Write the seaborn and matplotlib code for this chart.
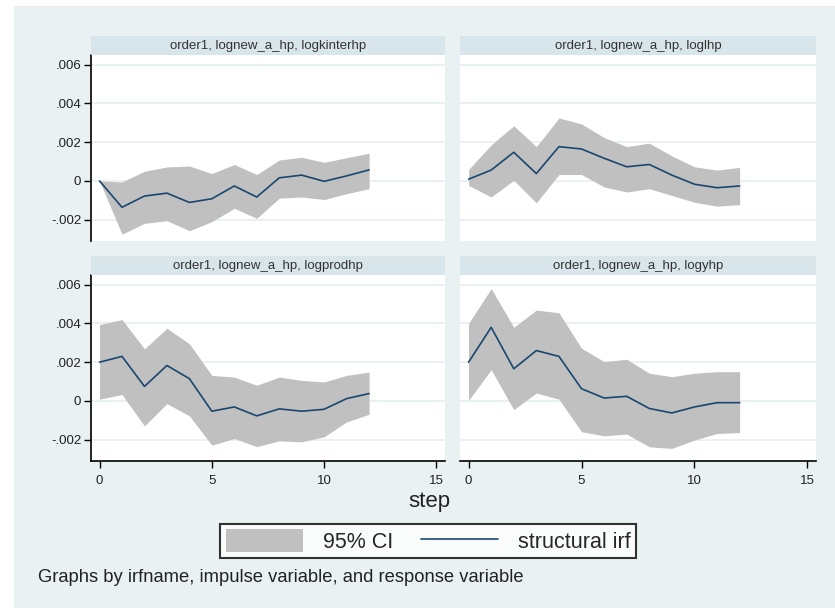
import numpy as np
import pandas as pd
import seaborn as sns
import matplotlib.pyplot as plt
from matplotlib.patches import Rectangle, Patch
from matplotlib.lines import Line2D

steps = list(range(13))
panel_titles = [
    "order1, lognew_a_hp, logkinterhp",
    "order1, lognew_a_hp, loglhp",
    "order1, lognew_a_hp, logprodhp",
    "order1, lognew_a_hp, logyhp",
]

# structural irf and 95% CI, one list per panel
irf_kinter = [0, -.00136, -.00078, -.00063, -.00111, -.00092, -.00026, -.00083, .00016, .0003, -.00002, .00026, .00057]
lo_kinter = [0, -.00275, -.00219, -.00205, -.00257, -.0021, -.00141, -.00193, -.00089, -.00083, -.00096, -.00066, -.0004]
hi_kinter = [0, -.00005, .0005, .00072, .00077, .00038, .00085, .00033, .00108, .00122, .00096, .0012, .00143]

irf_l = [.00009, .00056, .00148, .00038, .00177, .00165, .00117, .00073, .00085, .0003, -.00017, -.00035, -.00026]
lo_l = [-.00023, -.00083, .00003, -.00113, .00033, .00033, -.00031, -.00057, -.0004, -.00075, -.0011, -.0013, -.00122]
hi_l = [.00059, .00186, .00285, .00177, .00325, .00294, .00224, .00177, .00195, .00129, .00073, .00056, .0007]

irf_prod = [.002, .0023, .00075, .00183, .00115, -.00053, -.00031, -.00077, -.00041, -.00053, -.00043, .00012, .00038]
lo_prod = [.00009, .00033, -.00129, -.00014, -.00077, -.00228, -.00194, -.00236, -.00206, -.00211, -.00185, -.00108, -.00069]
hi_prod = [.00394, .0042, .00269, .00375, .00295, .00132, .00123, .00081, .00123, .00106, .00098, .00132, .00149]

irf_y = [.002, .0038, .00166, .0026, .0023, .00063, .00015, .00024, -.00039, -.00062, -.00031, -.00009, -.00009]
lo_y = [.00003, .00161, -.00045, .00041, .00009, -.00159, -.0018, -.00171, -.00237, -.00245, -.00202, -.00168, -.00163]
hi_y = [.004, .0058, .0038, .00469, .00455, .00272, .00203, .00215, .00143, .00125, .00143, .00151, .00151]

yticks = [-.002, 0, .002, .004, .006]
ytick_labels = ["-.002", "0", ".002", ".004", ".006"]
xticks = [0, 5, 10, 15]

panels = [
    (irf_kinter, lo_kinter, hi_kinter),
    (irf_l, lo_l, hi_l),
    (irf_prod, lo_prod, hi_prod),
    (irf_y, lo_y, hi_y),
]

BG = "#eaf1f3"
STRIP = "#d8e5ea"
GRID = "#e6eff1"
BAND = "#c0c0c0"
NAVY = "#1a476f"

sns.set_style("white")
plt.rcParams["font.family"] = ["Liberation Sans", "DejaVu Sans"]

W, H = 835, 608
fig = plt.figure(figsize=(W / 100, H / 100), dpi=100)
fig.patch.set_facecolor(BG)
# thin white margin on top and left, as in the screenshot
fig.patches.append(Rectangle((0, 1 - 6 / H), 1, 6 / H, transform=fig.transFigure,
                             facecolor="white", edgecolor="none"))
fig.patches.append(Rectangle((0, 0), 14 / W, 1, transform=fig.transFigure,
                             facecolor="white", edgecolor="none"))

# pixel boxes (left, top, right, bottom) of plot areas
boxes = [(91, 55, 445, 241), (460, 55, 816, 241), (91, 275, 445, 461), (460, 275, 816, 461)]
strip_h = 19

for i, ((x0, y0, x1, y1), (irf, lo, hi), title) in enumerate(zip(boxes, panels, panel_titles)):
    ax = fig.add_axes([x0 / W, 1 - y1 / H, (x1 - x0) / W, (y1 - y0) / H])
    ax.set_facecolor("white")
    df = pd.DataFrame({"step": steps, "irf": irf, "lo": lo, "hi": hi})
    ax.fill_between(df["step"], df["lo"], df["hi"], color=BAND, linewidth=0, zorder=2)
    sns.lineplot(data=df, x="step", y="irf", ax=ax, color=NAVY, linewidth=1.2, zorder=3)
    ax.set_xlim(-0.38, 15.38)
    ax.set_ylim(-0.0031, 0.0065)
    ax.set_yticks(yticks)
    ax.set_xticks(xticks)
    for y in yticks:
        ax.axhline(y, color=GRID, linewidth=1.2, zorder=1)
    ax.set_xlabel("")
    ax.set_ylabel("")
    for s in ax.spines.values():
        s.set_visible(False)
    left = i % 2 == 0
    bottom = i >= 2
    if left:
        ax.spines["left"].set_visible(True)
        ax.spines["left"].set_color("black")
        ax.spines["left"].set_linewidth(1.2)
        ax.set_yticklabels(ytick_labels)
        ax.tick_params(axis="y", left=True, length=5, width=1, color="black",
                       labelsize=9.5, pad=2, labelcolor="#222222")
    else:
        ax.tick_params(axis="y", left=False, labelleft=False)
    if bottom:
        ax.spines["bottom"].set_visible(True)
        ax.spines["bottom"].set_color("black")
        ax.spines["bottom"].set_linewidth(1.2)
        ax.tick_params(axis="x", bottom=True, length=5, width=1, color="black",
                       labelsize=9.5, pad=5, labelcolor="#222222")
    else:
        ax.tick_params(axis="x", bottom=False, labelbottom=False)
    # strip title
    sax = fig.add_axes([x0 / W, 1 - y0 / H, (x1 - x0) / W, strip_h / H])
    sax.set_facecolor(STRIP)
    sax.set_xticks([])
    sax.set_yticks([])
    for s in sax.spines.values():
        s.set_visible(False)
    sax.text(0.5, 0.5, title, ha="center", va="center", fontsize=9.5, color="#333333",
             transform=sax.transAxes)

fig.text(429 / W, 1 - 501 / H, "step", ha="center", va="center", fontsize=16, color="#222222")

handles = [Patch(facecolor=BAND, edgecolor="none"), Line2D([0], [0], color=NAVY, linewidth=1.2)]
leg = fig.legend(handles, ["95% CI", "structural irf"], loc="center",
                 bbox_to_anchor=(428 / W, 1 - 541 / H), ncol=2, fontsize=15.5,
                 frameon=True, fancybox=False, edgecolor="black", facecolor="white",
                 handlelength=3.6, handleheight=1.3, columnspacing=1.3, handletextpad=0.9,
                 borderpad=0.25)
leg.get_frame().set_linewidth(1.5)

fig.text(38 / W, 1 - 577 / H, "Graphs by irfname, impulse variable, and response variable",
         ha="left", va="center", fontsize=13.2, color="#222222")

fig.savefig("out.png", dpi=100)
